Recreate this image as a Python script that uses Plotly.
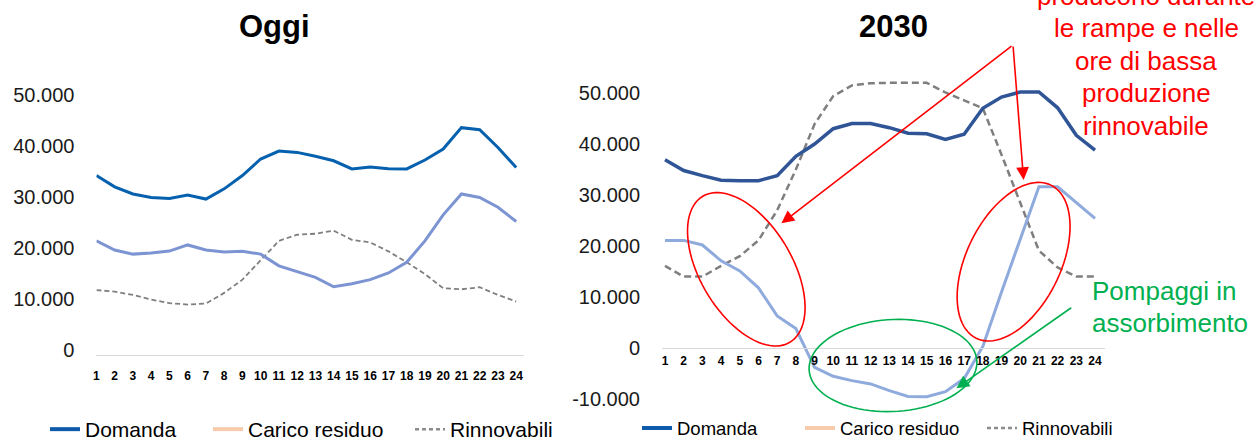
import numpy as np
import plotly.graph_objects as go

# ---------------- data ----------------
hours = list(range(1, 25))
hour_labels = [str(h) for h in hours]

oggi_domanda = [34200, 32000, 30600, 29900, 29700, 30400, 29600, 31600, 34200, 37450,
                39000, 38750, 38000, 37100, 35500, 35900, 35550, 35500, 37250, 39400,
                43600, 43200, 39700, 35800]
oggi_carico = [21400, 19600, 18800, 19000, 19400, 20600, 19600, 19200, 19350, 18800,
               16500, 15350, 14250, 12400, 13000, 13800, 15100, 17200, 21400, 26500,
               30600, 29900, 28000, 25200]
oggi_rinnovabili = [11750, 11450, 10800, 9870, 9200, 8900, 9100, 11200, 13800, 17650,
                    21400, 22600, 22800, 23400, 21600, 21100, 19350, 17200, 14900, 12100,
                    11900, 12300, 10800, 9500]

y2030_domanda = [36900, 34800, 33800, 32900, 32800, 32800, 33800, 37600, 40000, 43000,
                 44000, 44000, 43200, 42100, 42000, 40900, 41900, 47000, 49200, 50200,
                 50200, 47100, 41700, 38800]
y2030_carico = [21100, 21100, 20200, 17100, 15100, 11800, 6300, 3800, -3800, -5550,
                -6400, -7050, -8350, -9500, -9550, -8550, -6000, 300, 11000, 21200,
                31600, 31600, 28500, 25400]
y2030_rinnovabili = [16100, 14000, 14000, 16100, 18000, 21100, 27000, 35000, 43900, 49400,
                     51500, 51900, 52000, 52000, 52000, 50100, 48600, 47000, 37900, 28500,
                     19100, 15800, 14000, 14000]

series_names = ["Domanda", "Carico residuo", "Rinnovabili"]
left_ticks = [0, 10000, 20000, 30000, 40000, 50000]
left_ticktext = ["0", "10.000", "20.000", "30.000", "40.000", "50.000"]
right_ticks = [-10000, 0, 10000, 20000, 30000, 40000, 50000]
right_ticktext = ["-10.000", "0", "10.000", "20.000", "30.000", "40.000", "50.000"]

titles = ["Oggi", "2030"]
red_note = ["producono durante", "le rampe e nelle", "ore di bassa", "produzione", "rinnovabile"]
green_note = ["Pompaggi in", "assorbimento"]

# ---------------- geometry helpers ----------------
W, H = 1260, 441
FONT = "Liberation Sans, Arial, sans-serif"


def px(x):
    return x / W


def py(y):
    return 1 - y / H


def ellipse_path(cx, cy, a, b, ux, uy, n=90):
    vx, vy = -uy, ux
    t = np.linspace(0, 2 * np.pi, n, endpoint=False)
    xs = cx + a * np.cos(t) * ux + b * np.sin(t) * vx
    ys = cy + a * np.cos(t) * uy + b * np.sin(t) * vy
    pts = [f"{px(x):.5f},{py(y):.5f}" for x, y in zip(xs, ys)]
    return "M" + " L".join(pts) + " Z"


# ---------------- colours ----------------
c_dom_left = "#0561AE"
c_dom_right = "#2F5597"
c_car_left = "#7D94D3"
c_car_right = "#8FAADC"
c_rin = "#7F7F7F"
c_leg_dom = "#0D5BAA"
c_leg_car = "#F8CBAD"
c_leg_rin = "#8C8C8C"

fig = go.Figure()

# left chart
fig.add_trace(go.Scatter(x=hours, y=oggi_rinnovabili, mode="lines", xaxis="x", yaxis="y",
                         line=dict(color=c_rin, width=1.8, dash="5px,3px"), showlegend=False))
fig.add_trace(go.Scatter(x=hours, y=oggi_carico, mode="lines", xaxis="x", yaxis="y",
                         line=dict(color=c_car_left, width=3), showlegend=False))
fig.add_trace(go.Scatter(x=hours, y=oggi_domanda, mode="lines", xaxis="x", yaxis="y",
                         line=dict(color=c_dom_left, width=3), showlegend=False))

# right chart
fig.add_trace(go.Scatter(x=hours, y=y2030_rinnovabili, mode="lines", xaxis="x2", yaxis="y2",
                         line=dict(color=c_rin, width=2.5, dash="7px,4px"), showlegend=False))
fig.add_trace(go.Scatter(x=hours, y=y2030_carico, mode="lines", xaxis="x2", yaxis="y2",
                         line=dict(color=c_car_right, width=3), showlegend=False))
fig.add_trace(go.Scatter(x=hours, y=y2030_domanda, mode="lines", xaxis="x2", yaxis="y2",
                         line=dict(color=c_dom_right, width=3.5), showlegend=False))

# legend entries
leg_colors = [c_leg_dom, c_leg_car, c_leg_rin]
leg_dash = ["solid", "solid", "4px,3px"]
left_widths = [118, 157, 120]
right_widths = [118, 137, 100]
for name, col, dsh, w in zip(series_names, leg_colors, leg_dash, left_widths):
    fig.add_trace(go.Scatter(x=[None], y=[None], mode="lines", name=name, xaxis="x", yaxis="y",
                             line=dict(color=col, width=4 if dsh == "solid" else 2.5, dash=dsh),
                             legend="legend", legendwidth=w))
for name, col, dsh, w in zip(series_names, leg_colors, leg_dash, right_widths):
    fig.add_trace(go.Scatter(x=[None], y=[None], mode="lines", name=name, xaxis="x2", yaxis="y2",
                             line=dict(color=col, width=4 if dsh == "solid" else 2.5, dash=dsh),
                             legend="legend2", legendwidth=w))

axis_font = dict(family=FONT, size=12, color="#000000", weight="bold")
yfont = dict(family=FONT, size=20, color="#1a1a1a")

shapes = [
    dict(type="path", xref="paper", yref="paper",
         path=ellipse_path(746.3, 269.3, 85, 46, np.sin(np.radians(30.8)), np.cos(np.radians(30.8))),
         line=dict(color="#FF0000", width=1.6)),
    dict(type="path", xref="paper", yref="paper",
         path=ellipse_path(1013.6, 261.7, 85.2, 47.1, -np.sin(np.radians(26)), np.cos(np.radians(26))),
         line=dict(color="#FF0000", width=1.6)),
    dict(type="path", xref="paper", yref="paper",
         path=ellipse_path(893, 365.5, 84, 46, np.cos(np.radians(3)), -np.sin(np.radians(3))),
         line=dict(color="#00B050", width=1.6)),
]

annotations = [
    dict(text="<b>" + titles[0] + "</b>", x=px(274), y=py(27), xref="paper", yref="paper",
         xanchor="center", yanchor="middle",
         showarrow=False, font=dict(family=FONT, size=31, color="#000000")),
    dict(text="<b>" + titles[1] + "</b>", x=px(893), y=py(27), xref="paper", yref="paper",
         xanchor="center", yanchor="middle",
         showarrow=False, font=dict(family=FONT, size=31, color="#000000")),
]
for i, line_txt in enumerate(red_note):
    annotations.append(dict(text=line_txt, x=px(1146), y=py(-4 + 32.5 * i), xref="paper", yref="paper",
                            xanchor="center", yanchor="middle", showarrow=False,
                            font=dict(family=FONT, size=26, color="#FF0000")))
for i, line_txt in enumerate(green_note):
    annotations.append(dict(text=line_txt, x=px(1090), y=py(291 + 32 * i), xref="paper", yref="paper",
                            xanchor="left", yanchor="middle", showarrow=False,
                            font=dict(family=FONT, size=26, color="#00B050")))

# arrows
arrows = [
    ((781.4, 223.3), (1013, 45), "#FF0000"),
    ((1023.6, 180.0), (1013, 45), "#FF0000"),
    ((956.4, 388.3), (1072.7, 306.7), "#00B050"),
]
for (tx, ty), (sx, sy), col in arrows:
    annotations.append(dict(text="", x=px(tx), y=py(ty), xref="paper", yref="paper",
                            ax=sx - tx, ay=sy - ty, axref="pixel", ayref="pixel",
                            showarrow=True, arrowhead=2, arrowsize=1.6, arrowwidth=1.6,
                            arrowcolor=col, standoff=0))

fig.update_layout(
    width=W, height=H,
    margin=dict(l=0, r=0, t=0, b=0, autoexpand=False),
    paper_bgcolor="white", plot_bgcolor="white",
    font=dict(family=FONT, color="#000000"),
    xaxis=dict(domain=[px(96.4), px(524.4)], range=[1, 24.45], tickvals=hours, ticktext=hour_labels,
               showgrid=False, zeroline=False, showline=True, linecolor="#D9D9D9", linewidth=1,
               ticks="outside", ticklen=9, tickcolor="rgba(0,0,0,0)", tickfont=axis_font,
               anchor="y"),
    yaxis=dict(domain=[py(355.1), py(69.5)], range=[-1000, 55000], tickvals=left_ticks,
               ticktext=left_ticktext, showgrid=False, zeroline=False, showline=False,
               ticks="outside", ticklen=17, tickcolor="rgba(0,0,0,0)", tickfont=yfont,
               anchor="x"),
    xaxis2=dict(domain=[px(662), px(1105)], range=[0.84, 24.535], tickvals=hours, ticktext=hour_labels,
                showgrid=False, zeroline=False, showline=True, linecolor="#D9D9D9", linewidth=1,
                ticks="outside", ticklen=2, tickcolor="rgba(0,0,0,0)", tickfont=axis_font,
                anchor="free", position=py(348)),
    yaxis2=dict(domain=[py(399), py(67.5)], range=[-10000, 55000], tickvals=right_ticks,
                ticktext=right_ticktext, showgrid=False, zeroline=False, showline=False,
                ticks="outside", ticklen=17, tickcolor="rgba(0,0,0,0)", tickfont=yfont,
                anchor="x2"),
    legend=dict(orientation="h", x=px(45), y=py(429.5), xanchor="left", yanchor="middle",
                font=dict(family=FONT, size=21, color="#000000"), bgcolor="rgba(0,0,0,0)"),
    legend2=dict(orientation="h", x=px(637), y=py(428.5), xanchor="left", yanchor="middle",
                 font=dict(family=FONT, size=18.5, color="#000000"), bgcolor="rgba(0,0,0,0)"),
    shapes=shapes,
    annotations=annotations,
)

fig.write_html("out.html",
               config={"displayModeBar": False},
               post_script="document.body.style.margin='0px';document.body.style.padding='0px';")
